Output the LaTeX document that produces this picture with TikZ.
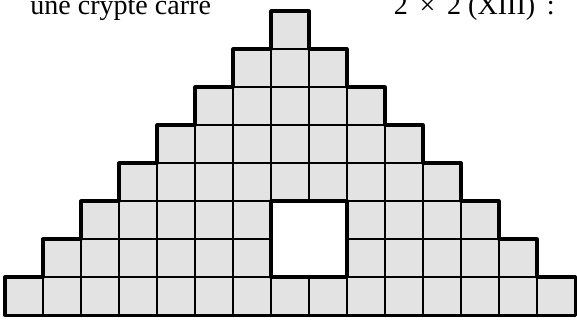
\documentclass[tikz,border=0pt]{standalone}
\usepackage{fontspec}
\setmainfont{Liberation Serif}
\usepackage{tikz}

\begin{document}
\begin{tikzpicture}[x=1cm,y=1cm]
  \tikzset{case/.style={fill=black!11, draw=black, line width=1.1pt},
           bord/.style={draw=black, line width=2.4pt, line join=round},
           texte/.style={inner sep=0pt, font=\fontsize{21}{25}\selectfont}}
  \useasboundingbox (-0.13,-0.16) rectangle (15.05,8.29);
  % les cases, rangee par rangee
  \foreach \r in {0,...,7}{
    \pgfmathtruncatemacro{\fin}{14-\r}
    \foreach \c in {\r,...,\fin}{
      \draw[case] (\c,\r) rectangle ++(1,1);
    }
  }
  % la crypte 2 x 2
  \coordinate (C1) at (7,1);
  \coordinate (C2) at (9,3);
  \fill[white] (C1) rectangle (C2);
  \draw[bord] (C1) rectangle (C2);
  % contour en escalier
  \draw[bord] (0,0) -- (15,0)
    \foreach \r in {0,...,7}{ -- (15-\r,\r+1) -- (14-\r,\r+1) }
    \foreach \r in {7,...,1}{ -- (\r,\r) -- (\r-1,\r) }
    -- cycle;
  \node[texte, anchor=base west] (titre) at (0.66,7.92) {une crypte carré};
  \node[texte, anchor=base east] (format) at (14.47,7.92) {2 \,×\, 2 (XIII) \,:};
\end{tikzpicture}
\end{document}
